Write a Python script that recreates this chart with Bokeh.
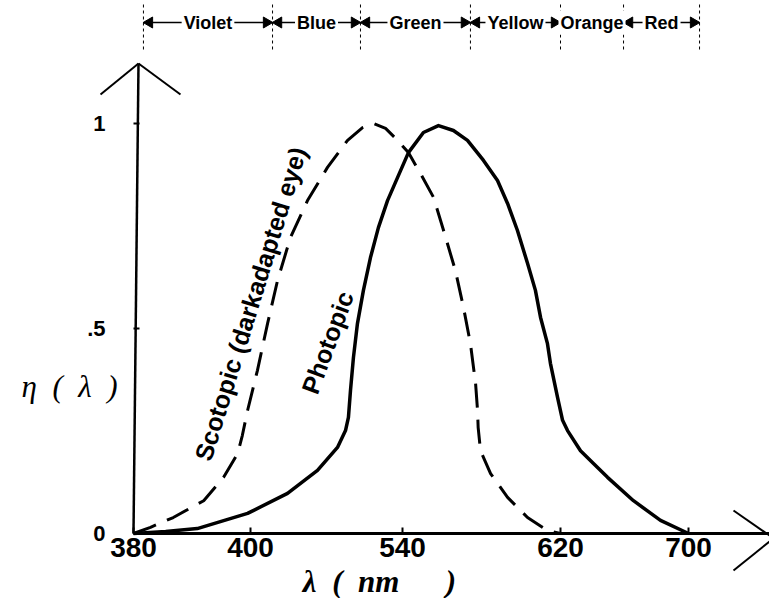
import numpy as np
from bokeh.plotting import figure
from bokeh.models import Range1d, FixedTicker
from bokeh.core.properties import value
from bokeh.embed import file_html
from bokeh.resources import INLINE

# ---------------- data ----------------
TICK_NM = [380, 400, 540, 620, 700]
TICK_LABELS = ["380", "400", "540", "620", "700"]
ETA_TICKS = [0, 0.5, 1]
ETA_TICK_LABELS = ["0", ".5", "1"]

SCOTOPIC_NM = [380, 382.9, 386.8, 392.0, 395.4, 397.8, 398.6, 399.5, 406.4, 415.7,
               424.9, 436.8, 452.5, 470.9, 489.4, 503.2, 513.3, 524.4, 535.4, 543.0,
               549.1, 555.7, 560.8, 566.8, 570.9, 574.4, 577.0, 578.0, 578.3, 579.5,
               584.6, 593.2, 603.3, 613.4, 620]
SCOTOPIC_ETA = [0.0, 0.015, 0.039, 0.080, 0.137, 0.195, 0.239, 0.300, 0.398, 0.512,
                0.617, 0.722, 0.812, 0.893, 0.959, 0.990, 1.000, 0.988, 0.959, 0.929,
                0.878, 0.820, 0.739, 0.641, 0.551, 0.463, 0.366, 0.300, 0.259, 0.202,
                0.146, 0.088, 0.039, 0.007, 0.0]

PHOTOPIC_NM = [380, 385.5, 390.9, 399.5, 434.1, 461.7, 480.1, 487.5, 490.2, 492.1,
               494.8, 498.5, 504.0, 510.5, 517.8, 526.2, 535.4, 543.0, 550.6, 558.2,
               565.8, 572.9, 581.0, 588.1, 593.2, 598.2, 603.3, 607.3, 609.9, 613.4,
               614.9, 618.5, 621.3, 624.4, 632.5, 640.6, 649.4, 665.6, 682.5, 700]
PHOTOPIC_ETA = [0.0, 0.005, 0.012, 0.049, 0.098, 0.154, 0.210, 0.251, 0.283, 0.349,
                0.429, 0.512, 0.593, 0.673, 0.746, 0.812, 0.868, 0.929, 0.978, 0.995,
                0.983, 0.959, 0.910, 0.861, 0.805, 0.739, 0.659, 0.593, 0.527, 0.463,
                0.415, 0.332, 0.276, 0.251, 0.202, 0.171, 0.137, 0.080, 0.032, 0.0]

BANDS = ["Violet", "Blue", "Green", "Yellow", "Orange", "Red"]
BAND_EDGES_NM = [381.7, 420.3, 501.3, 574.4, 620.0, 659.4, 706.9]
BAND_HAS_ARROWS = [True, True, True, True, False, True]

# ---------------- schematic (non-uniform) wavelength scale ----------------
AXIS_SPACING = [0, 117, 269, 427, 555]


def to_axis(nm):
    nm = np.asarray(nm, dtype=float)
    pos = np.interp(nm, TICK_NM, AXIS_SPACING)
    hi = (AXIS_SPACING[-1] - AXIS_SPACING[-2]) / (TICK_NM[-1] - TICK_NM[-2])
    return np.where(nm > TICK_NM[-1], AXIS_SPACING[-1] + (nm - TICK_NM[-1]) * hi, pos)


W, H = 769, 598
PX = 410.0  # pixels per unit of eta
p = figure(width=W, height=H, output_backend="svg", toolbar_location=None,
           x_range=Range1d(-133, 636), y_range=Range1d(-65 / PX, 533 / PX),
           min_border=0)
p.outline_line_color = None
p.grid.visible = False
p.background_fill_color = "white"
p.border_fill_color = "white"

# x axis, drawn at eta = 0
xa = p.xaxis[0]
xa.fixed_location = 0
xa.ticker = FixedTicker(ticks=AXIS_SPACING)
xa.major_label_overrides = {t: l for t, l in zip(AXIS_SPACING, TICK_LABELS)}
xa.axis_line_color = None
xa.major_tick_in = 6
xa.major_tick_out = 0
xa.major_tick_line_width = 2
xa.minor_tick_line_color = None
xa.major_label_text_font = "Liberation Sans"
xa.major_label_text_font_size = "28px"
xa.major_label_text_font_style = "bold"
xa.major_label_text_color = "black"
xa.major_label_standoff = 4

# y axis, drawn at 380 nm
ya = p.yaxis[0]
ya.fixed_location = 0
ya.ticker = FixedTicker(ticks=ETA_TICKS)
ya.major_label_overrides = {t: l for t, l in zip(ETA_TICKS, ETA_TICK_LABELS)}
ya.axis_line_color = None
ya.major_tick_in = 6
ya.major_tick_out = 0
ya.major_tick_line_width = 2
ya.minor_tick_line_color = None
ya.major_label_text_font = "Liberation Sans"
ya.major_label_text_font_size = "22px"
ya.major_label_text_font_style = "bold"
ya.major_label_text_color = "black"
ya.major_label_standoff = 28
ya.major_label_orientation = "horizontal"

# axis lines with open arrow heads
apex_y = 470 / PX
ax_x0 = [0, 0, 5, 5, 600, 600]
ax_y0 = [0, 0, apex_y, apex_y, 23 / PX, -37 / PX]
ax_x1 = [636, 5, -33, 47, 636, 636]
ax_y1 = [0, apex_y, apex_y - 31 / PX, apex_y - 31 / PX, -2 / PX, -8 / PX]
p.segment(x0=ax_x0, y0=ax_y0, x1=ax_x1, y1=ax_y1, line_color="black",
          line_width=[3, 2.5, 2, 2, 2, 2])

# curves
p.line(to_axis(PHOTOPIC_NM), PHOTOPIC_ETA, line_width=3.5, line_color="black",
       line_join="round")
p.line(to_axis(SCOTOPIC_NM), SCOTOPIC_ETA, line_width=3, line_color="black",
       line_dash="24 12")

p.text(x=to_axis([400.0]), y=[0.56], text=["Scotopic (darkadapted eye)"],
       angle=np.deg2rad(72.9), text_align="center", text_baseline="middle",
       text_font=value("Liberation Sans"), text_font_size="25px",
       text_font_style="bold", text_color="black")
p.text(x=to_axis([470.9]), y=[0.466], text=["Photopic"],
       angle=np.deg2rad(69.8), text_align="center", text_baseline="middle",
       text_font=value("Liberation Sans"), text_font_size="25px",
       text_font_style="bold", text_color="black")

# colour bands along the top
edges = to_axis(BAND_EDGES_NM)
band_y = (533 - 22) / PX
p.segment(x0=edges, y0=[(533 - 4) / PX] * len(edges), x1=edges,
          y1=[(533 - 52) / PX] * len(edges),
          line_color="black", line_width=1, line_dash="3 3")
centers = (edges[:-1] + edges[1:]) / 2
p.segment(x0=edges[:-1] + 3, y0=[band_y] * len(BANDS), x1=edges[1:] - 3,
          y1=[band_y] * len(BANDS), line_color="black", line_width=1.5)
left_heads = [e + 6 for e, a in zip(edges[:-1], BAND_HAS_ARROWS) if a]
right_heads = [e - 6 for e, a in zip(edges[1:], BAND_HAS_ARROWS) if a]
p.scatter(x=left_heads, y=[band_y] * len(left_heads), marker="triangle", size=11,
          angle=np.pi / 2, color="black")
p.scatter(x=right_heads, y=[band_y] * len(right_heads), marker="triangle", size=11,
          angle=-np.pi / 2, color="black")
p.text(x=centers, y=[band_y] * len(BANDS), text=BANDS, text_align="center",
       text_baseline="middle", text_font=value("Liberation Sans"),
       text_font_size="18px", text_font_style="bold", text_color="black",
       background_fill_color="white", padding=2)

# axis titles
p.text(x=[-64], y=[(533 - 386) / PX], text=["η\u2002(\u2002λ\u2002)"],
       text_align="center", text_baseline="middle",
       text_font=value("Liberation Serif"), text_font_style="italic",
       text_font_size="31px", text_color="black")
p.text(x=[246], y=[(533 - 581) / PX], text=["λ\u2002(\u2002nm\u2003\u2002)"],
       text_align="center", text_baseline="middle",
       text_font=value("Liberation Serif"), text_font_style="bold italic",
       text_font_size="31px", text_color="black")

open("out.html", "w").write(file_html(p, INLINE))
